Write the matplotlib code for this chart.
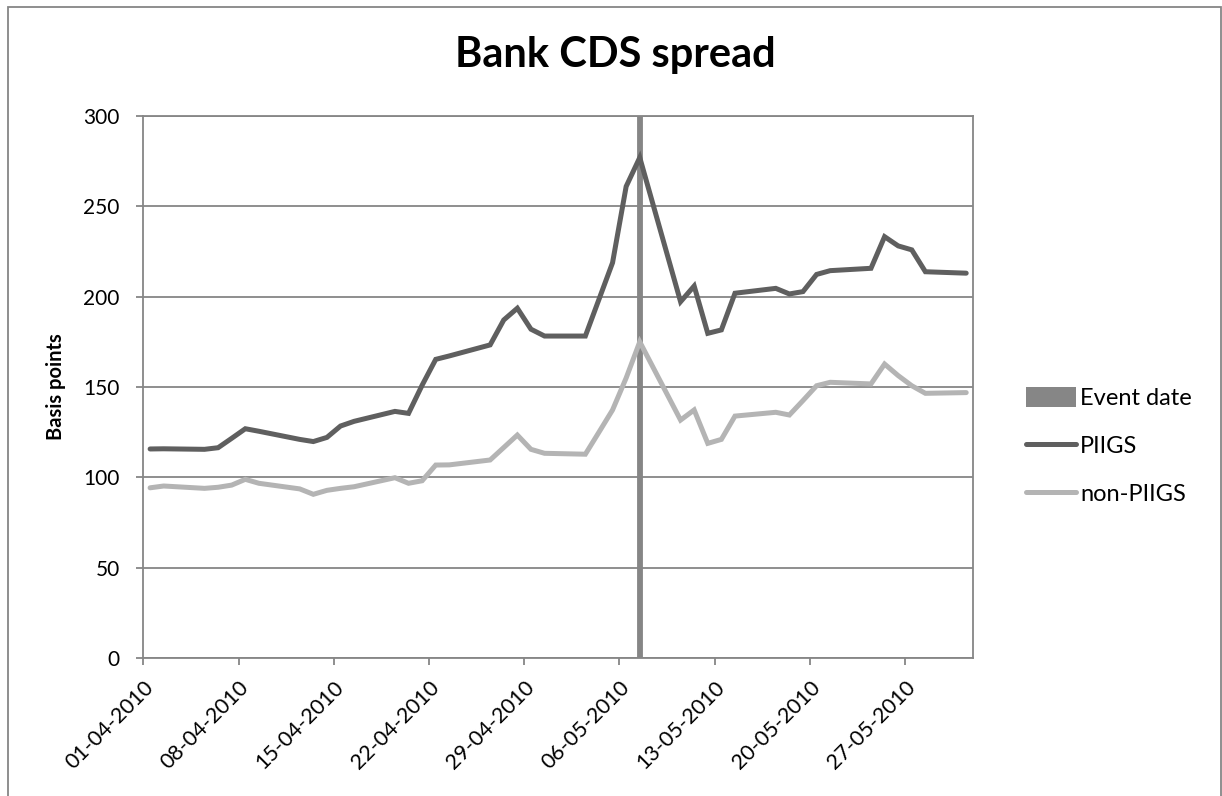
import numpy as np
import pandas as pd
import matplotlib
matplotlib.use("Agg")
import matplotlib.pyplot as plt
import matplotlib.dates as mdates
from matplotlib.patches import Patch, Rectangle
from matplotlib.lines import Line2D

plt.rcParams['font.family'] = ['Lato', 'DejaVu Sans']

dates = ['2010-04-01', '2010-04-02', '2010-04-05', '2010-04-06', '2010-04-07', '2010-04-08',
         '2010-04-09', '2010-04-12', '2010-04-13', '2010-04-14', '2010-04-15', '2010-04-16',
         '2010-04-19', '2010-04-20', '2010-04-21', '2010-04-22', '2010-04-23', '2010-04-26',
         '2010-04-27', '2010-04-28', '2010-04-29', '2010-04-30', '2010-05-03', '2010-05-04',
         '2010-05-05', '2010-05-06', '2010-05-07', '2010-05-10', '2010-05-11', '2010-05-12',
         '2010-05-13', '2010-05-14', '2010-05-17', '2010-05-18', '2010-05-19', '2010-05-20',
         '2010-05-21', '2010-05-24', '2010-05-25', '2010-05-26', '2010-05-27', '2010-05-28',
         '2010-05-31']

piigs = [115.7, 115.8, 115.5, 116.4, 121.6, 126.9, 125.5, 121.0, 119.8, 122.1, 128.4, 131.0,
         136.5, 135.4, 151.0, 165.3, 167.2, 173.3, 187.1, 193.6, 182.0, 178.2, 178.2, 198.5,
         218.8, 261.0, 277.0, 197.2, 205.9, 179.7, 181.6, 201.9, 204.6, 201.5, 202.8, 212.3,
         214.4, 215.7, 233.2, 228.1, 225.9, 213.8, 213.0]

non_piigs = [94.2, 95.2, 93.9, 94.5, 95.7, 98.9, 96.7, 93.6, 90.6, 92.8, 93.9, 94.8,
             99.8, 96.7, 98.1, 106.8, 106.9, 109.6, 116.5, 123.4, 115.5, 113.3, 112.8, 125.0,
             137.3, 155.0, 175.0, 131.7, 137.3, 118.8, 121.0, 133.9, 136.0, 134.5, 142.5, 150.7,
             152.6, 151.7, 162.7, 156.3, 150.7, 146.5, 146.9]

event_date = '2010-05-07'
tick_dates = ['2010-04-01', '2010-04-08', '2010-04-15', '2010-04-22', '2010-04-29',
              '2010-05-06', '2010-05-13', '2010-05-20', '2010-05-27']
y_ticks = [0, 50, 100, 150, 200, 250, 300]

# excel date axis puts points in the middle of each day
half = pd.Timedelta(hours=12)
x = pd.to_datetime(dates) + half
x_event = pd.Timestamp(event_date) + half

grid_col = '#868686'
dark = '#5f5f5f'
light = '#b4b4b4'

fig = plt.figure(figsize=(12.22, 7.96), dpi=100)
ax = fig.add_axes([143.3 / 1222, 138 / 796, 829.7 / 1222, 542 / 796])

ax.axvline(x_event, color=grid_col, lw=4.2, zorder=2)
ax.plot(x, piigs, color=dark, lw=3.6, solid_capstyle='round', solid_joinstyle='miter', zorder=3)
ax.plot(x, non_piigs, color=light, lw=3.6, solid_capstyle='round', solid_joinstyle='miter', zorder=3)

ax.set_xlim(pd.Timestamp('2010-04-01'), pd.Timestamp('2010-06-01'))
ax.set_ylim(0, 300)
ax.set_yticks(y_ticks)
ax.set_xticks(pd.to_datetime(tick_dates))
ax.xaxis.set_major_formatter(mdates.DateFormatter('%d-%m-%Y'))

ax.grid(axis='y', color=grid_col, lw=1.3)
ax.set_axisbelow(True)
for s in ax.spines.values():
    s.set_color(grid_col)
    s.set_linewidth(1.3)

ax.tick_params(axis='both', colors=grid_col, width=1.3, length=5, labelcolor='black')
ax.tick_params(axis='y', pad=12, labelsize=15)
ax.tick_params(axis='x', pad=9, labelsize=15.5)
for lab in ax.get_xticklabels():
    lab.set_rotation(45)
    lab.set_ha('right')
    lab.set_rotation_mode('anchor')

ax.set_ylabel('Basis points', fontsize=14.5, fontweight='bold')
ax.yaxis.set_label_coords((66 - 143.3) / 829.7, 0.5)
fig.text(615 / 1222, 1 - 55 / 796, 'Bank CDS spread', fontsize=30, fontweight='bold',
         ha='center', va='center')

handles = [Patch(facecolor=grid_col, edgecolor='none'),
           Line2D([], [], color=dark, lw=3.6, solid_capstyle='round'),
           Line2D([], [], color=light, lw=3.6, solid_capstyle='round')]
fig.legend(handles, ['Event date', 'PIIGS', 'non-PIIGS'], loc='center left',
           bbox_to_anchor=(1026 / 1222, 1 - 446 / 796), frameon=False, fontsize=17,
           handlelength=2.1, handleheight=0.9, handletextpad=0.2, labelspacing=1.1,
           borderaxespad=0, borderpad=0)

fig.add_artist(Rectangle((8 / 1222, -0.05), 1213 / 1222, 1.05 - 7 / 796, transform=fig.transFigure,
                         fill=False, edgecolor=grid_col, lw=1.3))

fig.savefig('out.png', dpi=100)
